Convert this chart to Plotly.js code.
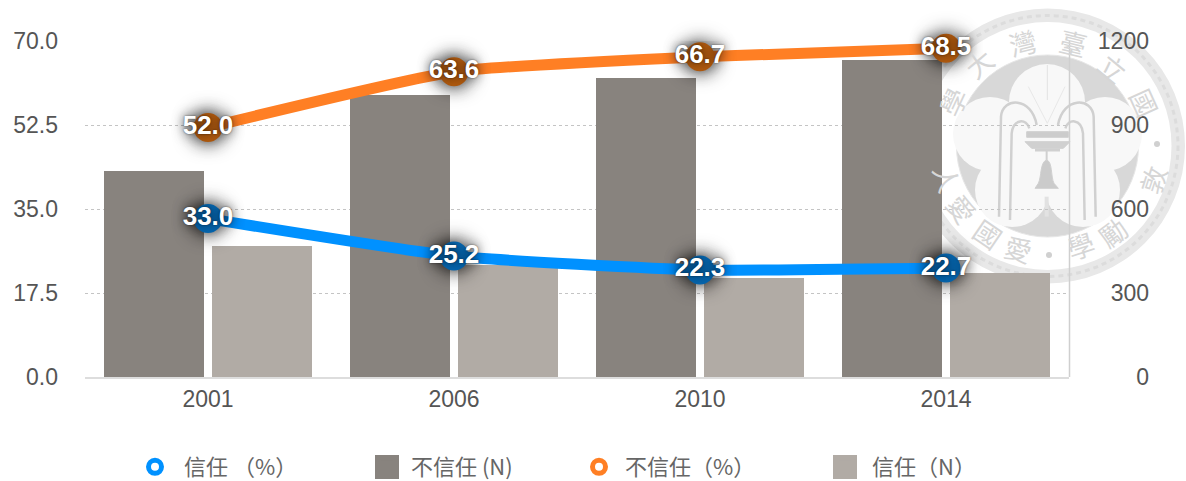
<!DOCTYPE html>
<html><head><meta charset="utf-8">
<script src="https://cdn.plot.ly/plotly-3.0.1.min.js"></script>
<style>
html,body{margin:0;padding:0;background:#fff}
#c{width:1186px;height:481px}
.scatterlayer .trace .points path{filter:drop-shadow(0 0 10px rgba(0,0,0,.85))}
</style></head><body><div id="c"></div>
<script>
var years=['2001','2006','2010','2014'];
var trustPct=[33.0,25.2,22.3,22.7];
var distrustPct=[52.0,63.6,66.7,68.5];
var distrustN=[736,1007,1068,1132];
var trustN=[468,400,354,371];
var pctTicks=[0,17.5,35,52.5,70];
var pctLabels=['0.0','17.5','35.0','52.5','70.0'];
var nTicks=[0,300,600,900,1200];
var nameTrustPct='信任 （%）',nameDistrustN='不信任 (N)',nameDistrustPct='不信任（%）',nameTrustN='信任（N）';

var W=1186,H=481;
var fx=function(x){return x/W},fy=function(y){return 1-y/H};
var P=function(x,y){return fx(x)+','+fy(y)};
var Z=function(px,py){return P(900+px/3,py/3)};
var ZM=function(px,py){return P(900+(884-px)/3,py/3)};
var FONT='"Liberation Sans","Noto Sans CJK TC",sans-serif';
var CJK='"Noto Sans CJK TC","Liberation Sans",sans-serif';

var sx=1047.5,sy=146;
function disc(cx,cy,r,fill,lc,lw,dash){return {type:'circle',xref:'paper',yref:'paper',layer:'below',
  x0:fx(cx-r),x1:fx(cx+r),y0:fy(cy+r),y1:fy(cy-r),fillcolor:fill,line:{color:lc||'rgba(0,0,0,0)',width:lw||0,dash:dash||'solid'}};}
function path(d,lc,lw,fill){return {type:'path',xref:'paper',yref:'paper',layer:'below',path:d,
  line:{color:lc,width:lw},fillcolor:fill||'rgba(0,0,0,0)'};}
var G='#d0d0d0';
var sealShapes=[
  disc(sx,sy,137.5,'#e8e8e8'),
  disc(sx,sy,130.5,'rgba(0,0,0,0)','#dcdcdc',3,'5px,4px'),
  disc(sx,sy,124,'#ffffff'),
  disc(sx,sy,91,'#d8d8d8','#e6e6e6',1),
  disc(1047,102,38,'#f8f8f8'),
  disc(990,134,37,'#f8f8f8'),
  disc(1105,134,37,'#f8f8f8'),
  disc(1012,190,37,'#f8f8f8'),
  disc(1083,190,37,'#f8f8f8'),
  disc(1047,148,45,'#f8f8f8'),
  path('M'+Z(297,650)+' L'+Z(303,350)+' C'+Z(308,290)+' '+Z(395,290)+' '+Z(410,375),G,2.5),
  path('M'+Z(330,660)+' L'+Z(335,400)+' C'+Z(340,355)+' '+Z(380,355)+' '+Z(388,385),G,2.5),
  path('M'+ZM(297,650)+' L'+ZM(303,350)+' C'+ZM(308,290)+' '+ZM(395,290)+' '+ZM(410,375),G,2.5),
  path('M'+ZM(330,660)+' L'+ZM(335,400)+' C'+ZM(340,355)+' '+ZM(380,355)+' '+ZM(388,385),G,2.5),
  path('M'+Z(380,395)+' L'+Z(505,395)+' L'+Z(505,412)+' L'+Z(380,412)+' Z',G,1,'#cccccc'),
  path('M'+Z(375,425)+' L'+Z(510,425)+' L'+Z(490,445)+' L'+Z(395,445)+' Z',G,1,'#d0d0d0'),
  path('M'+Z(405,450)+' L'+Z(480,450),G,3),
  path('M'+Z(440,450)+' L'+Z(440,480),G,2),
  path('M'+Z(440,480)+' C'+Z(420,485)+' '+Z(425,530)+' '+Z(415,550)+' L'+Z(405,565)+' L'+Z(475,565)+' L'+Z(462,550)+' C'+Z(452,530)+' '+Z(458,485)+' '+Z(440,480)+' Z',G,1,'#cbcbcb'),
  path('M'+Z(442,195)+' L'+Z(442,300),'#e2e2e2',1),
  path('M'+Z(442,370)+' L'+Z(385,260),'#e8e8e8',1),
  path('M'+Z(442,370)+' L'+Z(495,260),'#e8e8e8',1),
  path('M'+Z(440,590)+' L'+Z(440,650),'#e2e2e2',4)
];
var sealChars=[['灣',1022,42,1],['臺',1073,42,1],['立',1113,67,1],['國',1145,102,1],['敦',1152,180,-1],
  ['勵',1112,232,-1],['學',1080,245,-1],['愛',1018,248,-1],['國',988,233,-1],['愛',962,208,-1],
  ['人',948,178,-1],['學',952,102,1],['大',978,63,1]];
var sealNotes=sealChars.map(function(c){
  var dx=c[1]-sx,dy=c[2]-sy;
  var a=c[3]>0?Math.atan2(dx,-dy):Math.atan2(-dx,dy);
  return {text:c[0],xref:'paper',yref:'paper',x:fx(c[1]),y:fy(c[2]),showarrow:false,xanchor:'center',yanchor:'middle',
    textangle:a*180/Math.PI,font:{family:CJK,size:27,color:'#d6d6d6'}};
});
var dots=[disc(1157,144,3,'#d0d0d0'),disc(1049,255,3,'#d0d0d0')];

var BLUE='#0091ff',ORANGE='#ff7f24',DARKB='#0768b2',DARKO='#b35c10',BAR1='#88837e',BAR2='#b1aba5';
var fmt=function(a){return a.map(function(v){return v.toFixed(1)})};
var labelFont={family:FONT,size:26,color:'#fff',weight:700,shadow:'0 0 2px rgba(0,0,0,.6), 0 0 12px rgba(0,0,0,.7)'};

function legendMark(name,vals,color,lg){return {type:'scatter',mode:'markers',name:name,x:years,y:vals,yaxis:'y2',legend:lg,
  marker:{symbol:'circle',size:13,color:'#fff',line:{color:color,width:5}},hoverinfo:'skip'};}
function lineTrace(vals,color){return {type:'scatter',mode:'lines',x:years,y:vals,yaxis:'y2',showlegend:false,
  line:{color:color,width:11,shape:'spline',smoothing:0.5},hoverinfo:'skip'};}
function labelTrace(vals,dark){return {type:'scatter',mode:'markers+text',x:years,y:vals,yaxis:'y2',showlegend:false,
  marker:{size:29,color:dark},text:fmt(vals),textposition:'middle center',textfont:labelFont,cliponaxis:false,hoverinfo:'skip'};}

var traces=[
  legendMark(nameTrustPct,trustPct,BLUE,'legend'),
  {type:'bar',name:nameDistrustN,x:years,y:distrustN,marker:{color:BAR1},legend:'legend2'},
  legendMark(nameDistrustPct,distrustPct,ORANGE,'legend3'),
  {type:'bar',name:nameTrustN,x:years,y:trustN,marker:{color:BAR2},legend:'legend4'},
  lineTrace(trustPct,BLUE),lineTrace(distrustPct,ORANGE),
  labelTrace(trustPct,DARKB),labelTrace(distrustPct,DARKO)
];
var tick={family:FONT,size:23,color:'#555'};
function lg(x,iw){return {orientation:'h',x:fx(x),y:fy(467),xanchor:'left',yanchor:'middle',itemwidth:iw,bgcolor:'rgba(0,0,0,0)',
  font:{family:CJK,size:22,color:'#666'},itemclick:false,itemdoubleclick:false};}
function swatch(cx,cy,color){return {type:'rect',xref:'paper',yref:'paper',layer:'above',x0:fx(cx-12),x1:fx(cx+12),y0:fy(cy+12),y1:fy(cy-12),fillcolor:color,line:{width:0}};}
var layout={
  width:W,height:H,margin:{l:0,r:0,t:0,b:0,pad:0,autoexpand:false},paper_bgcolor:'#fff',plot_bgcolor:'rgba(0,0,0,0)',
  barmode:'group',bargap:0.122,bargroupgap:0.074,
  xaxis:{type:'category',domain:[fx(85),fx(1069)],anchor:'y',tickfont:tick,ticks:'',ticklabelstandoff:0,
    showgrid:false,showline:true,linecolor:'#dddddd',linewidth:2,automargin:false,zeroline:false,categoryorder:'array',categoryarray:years},
  yaxis:{domain:[fy(377),fy(41)],range:[0,1200],tickvals:nTicks,ticktext:nTicks.map(String),side:'right',anchor:'free',
    position:fx(1152),ticklabelposition:'inside',ticklabeloverflow:'allow',tickfont:tick,ticks:'',showline:false,
    showgrid:true,gridcolor:'#c4c4c4',griddash:'dot',gridwidth:1,zeroline:false,automargin:false},
  yaxis2:{domain:[fy(377),fy(41)],range:[0,70],overlaying:'y',tickvals:pctTicks,ticktext:pctLabels,side:'left',anchor:'free',
    position:fx(58),tickfont:tick,ticks:'',showline:false,showgrid:false,zeroline:false,automargin:false},
  legend:lg(126,48),legend2:lg(363,38),legend3:lg(573,42),legend4:lg(818,44),
  shapes:sealShapes.concat(dots).concat([
    {type:'line',xref:'paper',yref:'paper',layer:'below',x0:fx(1069.5),x1:fx(1069.5),y0:fy(377),y1:fy(41),line:{color:'#cfcfcf',width:1.5}},
    swatch(387,467,BAR1),swatch(845,467,BAR2)]),
  annotations:sealNotes,
  showlegend:true
};
Plotly.newPlot('c',traces,layout,{displayModeBar:false});
</script></body></html>
